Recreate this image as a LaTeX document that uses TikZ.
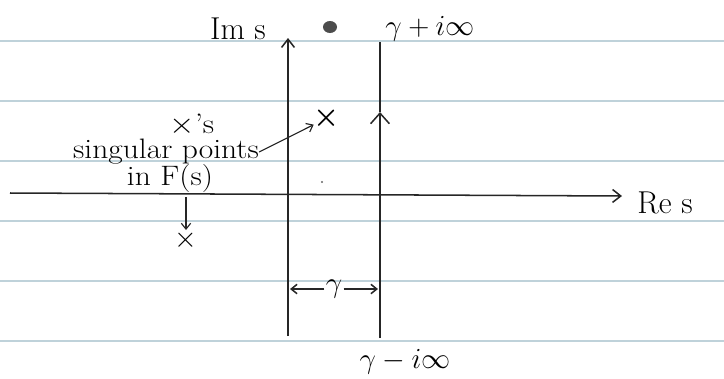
\documentclass[tikz,border=0pt]{standalone}
\usepackage{amsmath}
\usetikzlibrary{arrows.meta}
\begin{document}
\begin{tikzpicture}[x=0.03cm, y=-0.03cm,
  >={Straight Barb[length=7pt,width=11pt]},
  pen/.style={line width=1.3pt, black!85},
  ruled/.style={line width=0.9pt, cyan!30!gray!45},
  hand/.style={font=\fontsize{27}{29}\selectfont, inner sep=1pt},
  small/.style={font=\fontsize{24}{26}\selectfont, inner sep=0pt, xscale=1.12},
  cross/.style={font=\fontsize{38}{38}\selectfont, inner sep=0pt}]
  \useasboundingbox (0,0) rectangle (724,378);

  % Ruled paper
  \foreach \y in {41,101,...,341}
    \draw[ruled] (0,\y) -- (724,\y);

  % Axes
  \coordinate (reL) at (10,193);
  \coordinate (reR) at (622,196);
  \coordinate (imB) at (288,336);
  \coordinate (imT) at (288,38);
  \draw[pen, ->] (reL) -- (reR);
  \draw[pen, ->] (imB) -- (imT);
  \node[hand, anchor=west] (reLabel) at (636,203) {Re s};
  \node[hand] (imLabel) at (238,29) {Im s};

  % scribbled-out mark
  \fill[black!70] (330,27) ellipse (7 and 6);

  % Integration line
  \coordinate (gB) at (380,338);
  \coordinate (gM) at (380,112);
  \coordinate (gT) at (380,42);
  \draw[pen, ->, >={Straight Barb[length=9pt,width=16pt]}] (gB) -- (gM);
  \draw[pen] (gM) -- (gT);
  \node[hand] (gTop) at (430,29) {$\gamma+i\infty$};
  \node[hand] (gBot) at (405,362) {$\gamma-i\infty$};

  % Distance gamma
  \node[hand] (gam) at (334,289) {$\gamma$};
  \coordinate (dL) at (290,289);
  \coordinate (dR) at (378,289);
  \draw[pen, ->, >={Straight Barb[length=5pt,width=8pt]}] (gam.west) -- (dL);
  \draw[pen, ->, >={Straight Barb[length=5pt,width=8pt]}] (gam.east) -- (dR);

  % Singular points
  \node[cross] (p1) at (327,118) {$\boldsymbol{\times}$};
  \node[cross] (p2) at (186,240) {$\times$};
  \node[small] (xs) at (192,125) {$\times$'s};
  \node[small] (sing) at (166,152) {singular points};
  \node[small] (inF) at (170,178) {in F(s)};
  \draw[pen, line width=1pt, ->, >={Straight Barb[length=5pt,width=8pt]}] (sing.east) -- (p1);
  \draw[pen, line width=1pt, ->, >={Straight Barb[length=5pt,width=8pt]}] ([yshift=-4pt]inF.south -| p2.north) -- (p2.north);

  % stray dot
  \fill[black!60] (322,182) circle (1.2);
\end{tikzpicture}
\end{document}
